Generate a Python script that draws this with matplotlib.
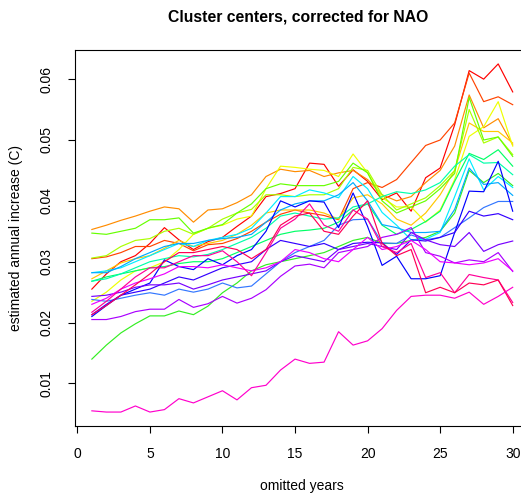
import matplotlib
matplotlib.use("Agg")
import matplotlib.pyplot as plt
import numpy as np

plt.rcParams['font.family'] = ['Liberation Sans', 'DejaVu Sans']

years = list(range(1, 31))

red = [0.0255,0.0280,0.0300,0.0310,0.0330,0.0356,0.0336,0.0320,0.0333,0.0340,0.0358,0.0375,0.0407,0.0412,0.0420,0.0462,0.0460,0.0424,0.0451,0.0432,0.0402,0.0413,0.0383,0.0438,0.0454,0.0525,0.0614,0.0600,0.0625,0.0579]
orangered = [0.0305,0.0308,0.0315,0.0325,0.0325,0.0335,0.0330,0.0318,0.0328,0.0330,0.0338,0.0350,0.0365,0.0378,0.0385,0.0380,0.0376,0.0369,0.0420,0.0430,0.0422,0.0435,0.0463,0.0491,0.0500,0.0528,0.0610,0.0563,0.0571,0.0558]
orange = [0.0353,0.0360,0.0368,0.0375,0.0383,0.0390,0.0387,0.0365,0.0385,0.0387,0.0397,0.0410,0.0440,0.0452,0.0448,0.0450,0.0440,0.0446,0.0450,0.0435,0.0410,0.0400,0.0407,0.0430,0.0450,0.0490,0.0574,0.0520,0.0535,0.0492]
gold = [0.0272,0.0285,0.0298,0.0305,0.0310,0.0322,0.0335,0.0325,0.0330,0.0335,0.0345,0.0360,0.0380,0.0385,0.0385,0.0385,0.0380,0.0370,0.0405,0.0410,0.0395,0.0370,0.0360,0.0380,0.0410,0.0450,0.0528,0.0514,0.0514,0.0495]
yellow = [0.0235,0.0250,0.0270,0.0285,0.0290,0.0300,0.0320,0.0345,0.0355,0.0360,0.0370,0.0375,0.0420,0.0457,0.0455,0.0452,0.0450,0.0440,0.0477,0.0446,0.0405,0.0390,0.0390,0.0365,0.0385,0.0435,0.0506,0.0522,0.0563,0.0490]
yellowgreen = [0.0306,0.0310,0.0325,0.0335,0.0338,0.0350,0.0355,0.0345,0.0355,0.0370,0.0380,0.0386,0.0410,0.0410,0.0407,0.0410,0.0410,0.0420,0.0455,0.0450,0.0410,0.0385,0.0395,0.0405,0.0425,0.0450,0.0550,0.0495,0.0505,0.0476]
chartreuse = [0.0347,0.0345,0.0350,0.0355,0.0369,0.0369,0.0372,0.0347,0.0355,0.0361,0.0380,0.0395,0.0420,0.0428,0.0425,0.0425,0.0425,0.0432,0.0462,0.0446,0.0400,0.0380,0.0390,0.0400,0.0420,0.0445,0.0570,0.0500,0.0505,0.0473]
green_low = [0.0140,0.0163,0.0183,0.0198,0.0211,0.0211,0.0219,0.0213,0.0227,0.0249,0.0265,0.0285,0.0295,0.0300,0.0305,0.0310,0.0315,0.0325,0.0335,0.0340,0.0330,0.0330,0.0335,0.0340,0.0350,0.0380,0.0450,0.0430,0.0445,0.0425]
springgreen = [0.0268,0.0275,0.0280,0.0285,0.0290,0.0292,0.0297,0.0300,0.0300,0.0305,0.0315,0.0325,0.0335,0.0345,0.0350,0.0352,0.0355,0.0365,0.0385,0.0395,0.0360,0.0345,0.0353,0.0366,0.0383,0.0432,0.0478,0.0468,0.0484,0.0457]
aquamarine = [0.0268,0.0272,0.0280,0.0290,0.0300,0.0305,0.0310,0.0308,0.0312,0.0320,0.0330,0.0340,0.0355,0.0375,0.0380,0.0375,0.0370,0.0372,0.0390,0.0395,0.0407,0.0415,0.0412,0.0418,0.0430,0.0457,0.0476,0.0462,0.0463,0.0443]
cyan = [0.0282,0.0285,0.0290,0.0300,0.0310,0.0320,0.0330,0.0325,0.0335,0.0340,0.0345,0.0355,0.0380,0.0407,0.0407,0.0418,0.0413,0.0405,0.0440,0.0420,0.0381,0.0360,0.0336,0.0337,0.0348,0.0407,0.0469,0.0418,0.0440,0.0422]
sky = [0.0282,0.0282,0.0292,0.0305,0.0315,0.0325,0.0330,0.0330,0.0335,0.0338,0.0340,0.0345,0.0365,0.0385,0.0395,0.0400,0.0400,0.0410,0.0430,0.0400,0.0361,0.0356,0.0348,0.0348,0.0350,0.0386,0.0454,0.0427,0.0430,0.0409]
dodger = [0.0238,0.0235,0.0240,0.0245,0.0249,0.0245,0.0255,0.0250,0.0255,0.0265,0.0257,0.0260,0.0280,0.0300,0.0315,0.0325,0.0335,0.0360,0.0369,0.0370,0.0331,0.0330,0.0344,0.0336,0.0340,0.0356,0.0372,0.0389,0.0399,0.0399]
blue = [0.0210,0.0228,0.0245,0.0255,0.0265,0.0303,0.0292,0.0287,0.0305,0.0295,0.0310,0.0320,0.0350,0.0400,0.0390,0.0400,0.0398,0.0356,0.0413,0.0358,0.0294,0.0309,0.0272,0.0272,0.0277,0.0348,0.0416,0.0415,0.0465,0.0383]
blueviolet = [0.0213,0.0230,0.0245,0.0250,0.0255,0.0265,0.0275,0.0270,0.0280,0.0290,0.0295,0.0300,0.0320,0.0335,0.0330,0.0325,0.0330,0.0320,0.0330,0.0332,0.0331,0.0312,0.0336,0.0334,0.0340,0.0348,0.0383,0.0375,0.0379,0.0369]
violet = [0.0243,0.0245,0.0250,0.0258,0.0262,0.0262,0.0265,0.0255,0.0262,0.0270,0.0275,0.0280,0.0285,0.0300,0.0310,0.0305,0.0300,0.0320,0.0325,0.0330,0.0325,0.0320,0.0348,0.0336,0.0328,0.0325,0.0348,0.0317,0.0328,0.0334]
purple = [0.0205,0.0205,0.0210,0.0218,0.0222,0.0222,0.0238,0.0225,0.0231,0.0243,0.0232,0.0240,0.0254,0.0276,0.0293,0.0296,0.0290,0.0315,0.0320,0.0325,0.0340,0.0345,0.0356,0.0315,0.0309,0.0298,0.0303,0.0300,0.0315,0.0284]
magenta = [0.0230,0.0240,0.0255,0.0265,0.0272,0.0280,0.0292,0.0292,0.0290,0.0295,0.0290,0.0285,0.0290,0.0300,0.0320,0.0315,0.0305,0.0300,0.0320,0.0340,0.0320,0.0325,0.0335,0.0320,0.0300,0.0298,0.0295,0.0298,0.0305,0.0285]
rose = [0.0217,0.0235,0.0255,0.0275,0.0290,0.0290,0.0300,0.0310,0.0310,0.0318,0.0300,0.0277,0.0315,0.0355,0.0370,0.0395,0.0360,0.0350,0.0385,0.0370,0.0325,0.0315,0.0330,0.0274,0.0282,0.0249,0.0279,0.0274,0.0270,0.0233]
deeppink = [0.0213,0.0228,0.0245,0.0262,0.0280,0.0300,0.0315,0.0315,0.0320,0.0325,0.0320,0.0305,0.0320,0.0360,0.0375,0.0380,0.0350,0.0345,0.0375,0.0400,0.0330,0.0310,0.0320,0.0249,0.0258,0.0249,0.0265,0.0262,0.0270,0.0228]
magenta_low = [0.0055,0.0053,0.0053,0.0063,0.0053,0.0057,0.0075,0.0068,0.0078,0.0088,0.0073,0.0093,0.0097,0.0122,0.0140,0.0133,0.0135,0.0185,0.0163,0.0170,0.0190,0.0220,0.0243,0.0245,0.0245,0.0240,0.0250,0.0230,0.0243,0.0258]

series = [red, orangered, orange, gold, yellow, yellowgreen, chartreuse, green_low,
          springgreen, aquamarine, cyan, sky, dodger, blue, blueviolet, violet,
          purple, magenta, rose, deeppink, magenta_low]
colors = ['#FF0000', '#FF4400', '#FF8C00', '#FFC800', '#EEFF00', '#AAFF00', '#66FF00', '#33EE22',
          '#00FF66', '#00FFAA', '#00EEFF', '#00AAFF', '#3377FF', '#0000FF', '#3300FF', '#7700FF',
          '#AA00FF', '#EE00FF', '#FF0099', '#FF0055', '#FF00CC']

fig = plt.figure(figsize=(5.21, 4.94), dpi=100)
ax = fig.add_axes([0.1440, 0.1377, 0.8724, 0.7611])
for s, c in zip(series, colors):
    ax.plot(years, s, color=c, lw=0.85)

ax.set_xlim(-0.16, 31.16)
allv = np.concatenate([np.array(s) for s in series])
lo, hi = allv.min(), allv.max()
pad = 0.04 * (hi - lo)
ax.set_ylim(lo - pad, hi + pad)

ax.set_xticks([0, 5, 10, 15, 20, 25, 30])
ax.set_yticks([0.01, 0.02, 0.03, 0.04, 0.05, 0.06])
ax.set_yticklabels(['0.01', '0.02', '0.03', '0.04', '0.05', '0.06'], rotation=90, va='center')
ax.tick_params(direction='out', length=5, width=0.8, labelsize=10, colors='black')
ax.tick_params(axis='x', pad=10)
ax.tick_params(axis='y', pad=10.5)
for sp in ax.spines.values():
    sp.set_linewidth(0.8)

ax.set_xlabel('omitted years', fontsize=10, labelpad=13)
ax.set_ylabel('estimated annual increase (C)', fontsize=10, labelpad=12)
fig.text(0.573, 0.965, 'Cluster centers, corrected for NAO', fontsize=11.3, fontweight='bold',
         ha='center', va='center')

fig.savefig('out.png', dpi=100)
